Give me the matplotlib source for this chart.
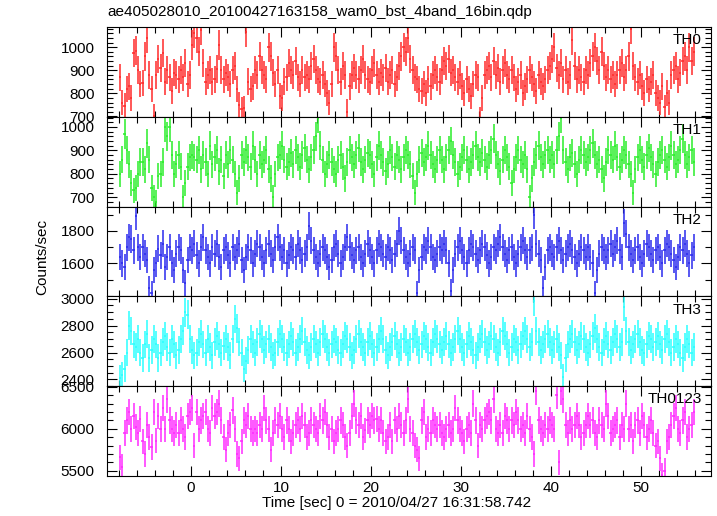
import numpy as np
import matplotlib.pyplot as plt
from matplotlib.ticker import MultipleLocator, FixedLocator

plt.rcParams['font.family'] = ['Liberation Sans', 'DejaVu Sans']

# light curves, 0.25 s bins, counts/sec (16 bins = 4 s per row)
t_start = -7.875
bin_w = 0.25

th0 = [870, 760, 745, 820, 830, 780, 975, 985, 900, 840, 845, 960, 1040, 880, 820, 700,
       880, 950, 910, 975, 850, 900, 870, 810, 890, 880, 860, 900, 870, 930, 840, 880,
       1010, 1060, 1040, 980, 1075, 930, 850, 880, 900, 850, 860, 905, 1010, 900, 860, 890,
       870, 840, 900, 920, 820, 750, 730, 735, 1065, 850, 820, 830, 900, 880, 960, 900,
       880, 860, 1000, 960, 890, 840, 900, 790, 780, 850, 870, 930, 900, 880, 940, 870,
       840, 900, 870, 880, 860, 920, 950, 900, 860, 850, 880, 840, 800, 760, 840, 1000,
       960, 900, 850, 920, 880, 720, 830, 880, 910, 880, 860, 900, 950, 880, 860, 850,
       900, 930, 880, 850, 890, 870, 910, 850, 880, 900, 840, 870, 920, 960, 1000, 980,
       1040, 950, 900, 870, 860, 820, 810, 840, 800, 860, 830, 880, 900, 870, 850, 900,
       940, 920, 950, 890, 900, 870, 850, 880, 830, 800, 860, 820, 790, 840, 880, 870,
       690, 780, 880, 900, 920, 870, 940, 880, 910, 850, 900, 930, 880, 860, 900, 870,
       820, 850, 880, 800, 830, 860, 900, 870, 840, 810, 880, 850, 830, 860, 900, 920,
       950, 1000, 910, 880, 930, 860, 900, 850, 880, 1030, 920, 860, 900, 870, 850, 900,
       880, 930, 960, 1000, 940, 900, 980, 920, 870, 900, 860, 880, 840, 880, 900, 930,
       870, 900, 960, 1080, 920, 870, 850, 880, 830, 800, 860, 820, 850, 880, 800, 780,
       760, 830, 740, 800, 760, 880, 900, 920, 860, 890, 940, 960, 900, 1000, 940, 980]

th1 = [800, 860, 970, 900, 840, 760, 730, 740, 800, 850, 850, 820, 930, 860, 740, 700,
       680, 790, 800, 850, 1000, 960, 1000, 880, 800, 840, 880, 830, 700, 760, 830, 870,
       880, 870, 860, 900, 820, 880, 850, 800, 920, 840, 870, 900, 810, 860, 790, 880,
       840, 900, 860, 800, 720, 780, 880, 850, 900, 870, 830, 920, 860, 800, 880, 840,
       860, 900, 820, 780, 700, 800, 870, 880, 920, 860, 830, 850, 890, 840, 900, 870,
       830, 880, 910, 860, 820, 870, 900, 960, 1040, 920, 860, 800, 840, 880, 850, 820,
       800, 860, 880, 830, 780, 850, 900, 870, 840, 880, 910, 850, 820, 860, 890, 880,
       840, 800, 870, 920, 880, 850, 810, 840, 900, 870, 830, 880, 860, 820, 870, 900,
       880, 840, 790, 720, 800, 860, 890, 850, 870, 920, 880, 840, 820, 860, 900, 860,
       820, 870, 900, 940, 880, 850, 800, 830, 870, 900, 860, 820, 850, 880, 920, 870,
       850, 890, 860, 830, 880, 900, 950, 880, 840, 810, 860, 900, 870, 830, 760, 820,
       870, 900, 860, 840, 880, 820, 700, 780, 850, 880, 920, 870, 840, 880, 900, 860,
       880, 840, 900, 960, 1040, 900, 850, 820, 870, 890, 840, 800, 860, 900, 880, 850,
       870, 900, 930, 880, 840, 860, 820, 780, 850, 900, 880, 860, 920, 870, 830, 860,
       900, 880, 840, 800, 720, 820, 870, 900, 860, 830, 880, 910, 870, 840, 800, 850,
       880, 900, 860, 830, 870, 920, 880, 840, 860, 900, 950, 880, 840, 870, 900, 850]

th2 = [1640, 1600, 1580, 1700, 1760, 1750, 1680, 1890, 1700, 1640, 1700, 1660, 1620, 1450, 1420, 1560,
       1600, 1690, 1650, 1720, 1580, 1640, 1700, 1600, 1560, 1660, 1700, 1680, 1560, 1480, 1620, 1700,
       1680, 1720, 1650, 1600, 1700, 1760, 1680, 1640, 1600, 1700, 1660, 1720, 1640, 1580, 1680, 1700,
       1650, 1600, 1700, 1640, 1680, 1720, 1620, 1560, 1640, 1700, 1680, 1600, 1660, 1720, 1700, 1640,
       1600, 1680, 1720, 1660, 1620, 1700, 1760, 1700, 1640, 1680, 1600, 1650, 1700, 1680, 1640, 1720,
       1680, 1620, 1660, 1700, 1830, 1740, 1680, 1640, 1600, 1660, 1700, 1680, 1640, 1580, 1620, 1700,
       1720, 1660, 1600, 1640, 1700, 1760, 1700, 1650, 1620, 1680, 1700, 1640, 1600, 1660, 1720, 1680,
       1640, 1600, 1680, 1720, 1700, 1660, 1640, 1700, 1680, 1620, 1660, 1720, 1800, 1740, 1680, 1640,
       1600, 1660, 1700, 1680, 1420, 1560, 1640, 1700, 1680, 1740, 1700, 1640, 1620, 1660, 1700, 1680,
       1720, 1680, 1600, 1430, 1560, 1660, 1700, 1740, 1680, 1640, 1600, 1680, 1720, 1700, 1660, 1620,
       1680, 1720, 1700, 1650, 1600, 1640, 1700, 1680, 1720, 1760, 1700, 1660, 1620, 1680, 1700, 1640,
       1600, 1660, 1700, 1740, 1680, 1640, 1680, 1700, 1900, 1720, 1660, 1620, 1450, 1580, 1680, 1700,
       1660, 1640, 1700, 1740, 1680, 1620, 1660, 1700, 1720, 1680, 1640, 1600, 1660, 1700, 1680, 1640,
       1700, 1640, 1600, 1420, 1560, 1660, 1700, 1680, 1640, 1680, 1720, 1660, 1700, 1740, 1680, 1640,
       1850, 1780, 1700, 1660, 1620, 1680, 1700, 1640, 1600, 1660, 1720, 1700, 1660, 1620, 1680, 1700,
       1640, 1600, 1680, 1720, 1700, 1660, 1620, 1580, 1640, 1700, 1680, 1720, 1660, 1600, 1650, 1700]

th3 = [2410, 2430, 2480, 2600, 2800, 2760, 2660, 2640, 2700, 2600, 2560, 2660, 2740, 2560, 2620, 2700,
       2660, 2560, 2600, 2680, 2720, 2640, 2600, 2700, 2660, 2580, 2620, 2700, 2760, 2900, 2880, 2700,
       2620, 2580, 2600, 2680, 2740, 2660, 2600, 2700, 2640, 2580, 2680, 2720, 2660, 2600, 2650, 2700,
       2640, 2580, 2700, 2850, 2780, 2680, 2600, 2480, 2540, 2620, 2700, 2660, 2600, 2680, 2740, 2700,
       2620, 2660, 2700, 2640, 2580, 2600, 2680, 2740, 2700, 2640, 2600, 2660, 2720, 2680, 2600, 2640,
       2700, 2760, 2680, 2620, 2580, 2640, 2700, 2660, 2600, 2680, 2740, 2700, 2640, 2600, 2660, 2700,
       2680, 2620, 2600, 2660, 2720, 2700, 2640, 2580, 2620, 2700, 2740, 2680, 2640, 2600, 2680, 2720,
       2660, 2600, 2640, 2700, 2760, 2700, 2620, 2580, 2640, 2680, 2720, 2660, 2600, 2640, 2700, 2680,
       2600, 2640, 2700, 2740, 2680, 2620, 2660, 2720, 2700, 2640, 2600, 2680, 2740, 2700, 2660, 2620,
       2680, 2720, 2660, 2600, 2640, 2700, 2760, 2700, 2640, 2600, 2660, 2720, 2680, 2620, 2580, 2640,
       2700, 2740, 2680, 2620, 2660, 2720, 2700, 2640, 2600, 2680, 2760, 2720, 2660, 2600, 2640, 2700,
       2680, 2620, 2660, 2720, 2760, 2700, 2640, 2680, 2980, 2760, 2680, 2620, 2660, 2700, 2740, 2680,
       2620, 2660, 2700, 2640, 2580, 2420, 2560, 2660, 2700, 2740, 2680, 2620, 2660, 2720, 2700, 2640,
       2600, 2660, 2720, 2780, 2700, 2640, 2600, 2680, 2720, 2660, 2620, 2680, 2740, 2700, 2640, 2680,
       2940, 2760, 2680, 2620, 2660, 2700, 2740, 2680, 2620, 2600, 2660, 2720, 2700, 2640, 2680, 2720,
       2660, 2620, 2700, 2740, 2680, 2600, 2640, 2700, 2660, 2600, 2560, 2640, 2700, 2660, 2600, 2640]

th0123 = [5660, 5550, 5950, 6100, 6200, 6000, 6150, 6020, 5950, 6120, 5850, 5700, 6050, 5900, 5780, 6200,
          5860, 6150, 6000, 6250, 6000, 6350, 6100, 6000, 5950, 6050, 5950, 6100, 6000, 5900, 6150, 6200,
          6250, 5800, 6200, 6000, 6100, 6150, 6200, 6000, 5950, 6250, 6150, 6200, 6300, 6100, 5900, 5750,
          5950, 6050, 6220, 6000, 5700, 5650, 5850, 6100, 6050, 6150, 6000, 5950, 6000, 5950, 6050, 6000,
          6250, 6100, 6000, 5750, 5950, 6100, 6050, 6150, 6000, 5900, 6100, 6000, 5850, 5950, 6050, 6100,
          6000, 6150, 6050, 5900, 5950, 6100, 6050, 6000, 5950, 6150, 6100, 6200, 6050, 5900, 6000, 5850,
          5950, 6000, 6100, 6050, 5900, 5800, 5950, 6150, 6300, 6100, 6050, 6150, 5900, 5980, 6100, 6050,
          6150, 6100, 6120, 6000, 6100, 5950, 5850, 5900, 6050, 5850, 6100, 6000, 6150, 6050, 5950, 6100,
          6350, 6000, 5950, 5800, 5750, 5650, 6100, 6200, 5900, 6000, 5950, 6100, 6050, 6000, 6050, 5950,
          5900, 6000, 6050, 5950, 6000, 6250, 6100, 6000, 5950, 5850, 6000, 6050, 5950, 6300, 6100, 5800,
          6050, 6000, 6100, 6150, 6200, 6100, 6350, 6000, 5950, 6050, 5950, 6150, 6100, 6000, 6100, 6050,
          6200, 6100, 6000, 6050, 5950, 6150, 6000, 5900, 5700, 6450, 6100, 6000, 5950, 6050, 6000, 6100,
          6050, 6000, 6400, 5600, 6450, 6350, 6050, 5950, 6100, 6000, 6050, 6150, 6050, 5900, 5950, 6050,
          6150, 6050, 6100, 5950, 5900, 6100, 6050, 6000, 6300, 6150, 5950, 6000, 6050, 6100, 5900, 6050,
          6000, 6300, 6000, 6050, 5850, 6050, 6100, 5950, 6150, 6050, 5900, 6000, 6100, 5950, 5800, 5850,
          5650, 5450, 5500, 5850, 5900, 6050, 6150, 6250, 6000, 5950, 6100, 6200, 5900, 6000, 6050, 6200]

series = [th0, th1, th2, th3, th0123]
names = ["TH0", "TH1", "TH2", "TH3", "TH0123"]
colors = ["#ff2a2a", "#2aee2a", "#2a2aee", "#2affff", "#ff2aff"]
ylims = [(698, 1088), (660, 1043), (1398, 1949), (2350, 3017), (5437, 6508)]
yticks = [[700, 800, 900, 1000], [700, 800, 900, 1000], [1600, 1800],
          [2400, 2600, 2800, 3000], [5500, 6000, 6500]]
minor = [20, 20, 100, 50, 100]

fig = plt.figure(figsize=(7.17, 5.16), dpi=100)
top, bottom = 1 - 27 / 516, 1 - 476 / 516
left, right = 107 / 717, 711 / 717
h = (top - bottom) / 5

axes = []
for i in range(5):
    ax = fig.add_axes([left, top - (i + 1) * h, right - left, h])
    axes.append(ax)
    vals = np.array(series[i], dtype=float)
    t = t_start + bin_w * np.arange(len(vals))
    err = np.sqrt(vals / bin_w)  # poisson error of a 0.25 s bin
    ax.errorbar(t, vals, xerr=bin_w / 2, yerr=err, fmt='none',
                ecolor=colors[i], elinewidth=1.1)
    ax.set_xlim(-9.33, 57.78)
    ax.set_ylim(*ylims[i])
    ax.yaxis.set_major_locator(FixedLocator(yticks[i]))
    ax.yaxis.set_minor_locator(MultipleLocator(minor[i]))
    ax.xaxis.set_major_locator(MultipleLocator(10))
    ax.xaxis.set_minor_locator(MultipleLocator(2))
    ax.tick_params(which='both', direction='in', top=True, right=True,
                   labelsize=11, width=0.8)
    ax.tick_params(which='major', length=7)
    ax.tick_params(which='minor', length=4)
    ax.tick_params(axis='y', pad=9)
    for s in ax.spines.values():
        s.set_linewidth(0.8)
    if i < 4:
        ax.tick_params(labelbottom=False)
    ax.text(0.985, 0.93, names[i], transform=ax.transAxes, ha='right',
            va='top', fontsize=11)

fig.text(397 / 717, 1 - 503 / 516, "Time [sec] 0 = 2010/04/27 16:31:58.742",
         ha='center', va='center', fontsize=11)
fig.text(42 / 717, 1 - 257 / 516, "Counts/sec", rotation=90,
         ha='center', va='center', fontsize=11)
fig.text(left, 1 - 12 / 516, "ae405028010_20100427163158_wam0_bst_4band_16bin.qdp",
         ha='left', va='center', fontsize=11)

fig.savefig("out.png", dpi=100)
